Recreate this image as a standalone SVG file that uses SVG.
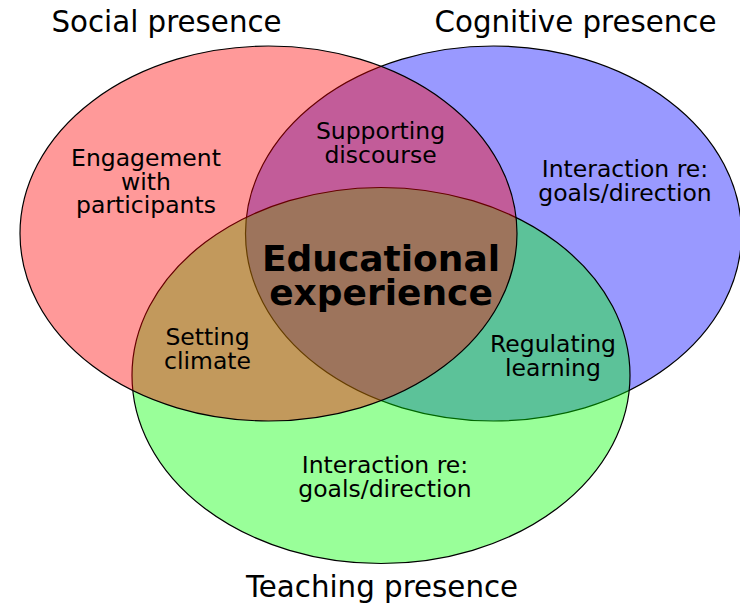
<svg xmlns="http://www.w3.org/2000/svg" width="740" height="605" viewBox="0 0 740 605">
<style>
.c{stroke:#000;stroke-width:1.2;fill-opacity:0.4}
text{font-family:"DejaVu Sans","Liberation Sans",sans-serif;fill:#000;text-anchor:middle}
.t{font-size:29.3px}
.l{font-size:23.5px}
.b{font-size:36px;font-weight:bold}
</style>
<rect width="740" height="605" fill="#fff"/>
<g id="cognitive">
<ellipse class="c" cx="493.5" cy="233.5" rx="248" ry="187.5" fill="#0000ff"/>
</g>
<g id="teaching">
<ellipse class="c" cx="381" cy="375.5" rx="249" ry="188" fill="#00ff00"/>
</g>
<g id="social">
<ellipse class="c" cx="268.5" cy="233.5" rx="248.5" ry="187.5" fill="#ff0000"/>
</g>
<g id="titles">
<text class="t" x="166.5" y="32">Social presence</text>
<text class="t" x="575.5" y="32">Cognitive presence</text>
<text class="t" x="382" y="597">Teaching presence</text>
</g>
<g id="labels">
<text class="l" x="146" y="166">Engagement</text>
<text class="l" x="146" y="189.5">with</text>
<text class="l" x="146" y="213">participants</text>
<text class="l" x="380.5" y="139">Supporting</text>
<text class="l" x="380.5" y="162.5">discourse</text>
<text class="l" x="625" y="177">Interaction re:</text>
<text class="l" x="625" y="200.5">goals/direction</text>
<text class="l" x="207.5" y="345">Setting</text>
<text class="l" x="207.5" y="368.5">climate</text>
<text class="l" x="553" y="352">Regulating</text>
<text class="l" x="553" y="375.5">learning</text>
<text class="l" x="385" y="473">Interaction re:</text>
<text class="l" x="385" y="496.5">goals/direction</text>
<text class="b" x="381" y="271">Educational</text>
<text class="b" x="381" y="305">experience</text>
</g>
</svg>
